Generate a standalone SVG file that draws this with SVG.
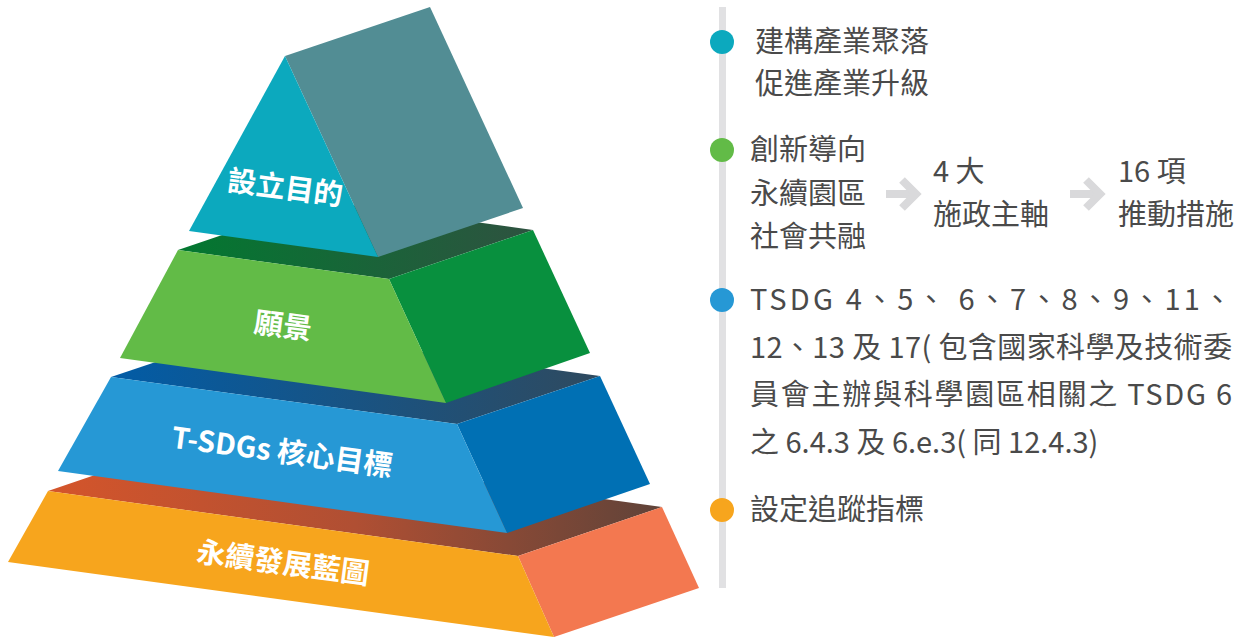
<svg xmlns="http://www.w3.org/2000/svg" width="1244" height="637" viewBox="0 0 1244 637">
<defs>
<style>
.lbl{font-family:"Noto Sans CJK TC","Noto Sans CJK SC",sans-serif;font-weight:700;font-size:29px;fill:#fff;text-anchor:middle}
.txt{font-family:"Noto Sans CJK TC","Noto Sans CJK SC",sans-serif;font-weight:400;font-size:29px;fill:#4a4a4a}
.arrow{fill:none;stroke:#d9d9db;stroke-width:8}
</style>
<linearGradient id="gTop" x1="0" y1="0" x2="1" y2="0"><stop offset="0" stop-color="#027830"/><stop offset="1" stop-color="#2e5240"/></linearGradient>
<linearGradient id="bTop" x1="0" y1="0" x2="1" y2="0"><stop offset="0" stop-color="#025ca6"/><stop offset="1" stop-color="#2f4a5f"/></linearGradient>
<linearGradient id="oTop" x1="0" y1="0" x2="1" y2="0"><stop offset="0" stop-color="#d4552b"/><stop offset="0.5" stop-color="#b04f33"/><stop offset="1" stop-color="#5f4339"/></linearGradient>
</defs>

<g id="layer-blueprint">
<polygon points="48,491 192,442 662,507 518,556" fill="url(#oTop)"/>
<polygon points="518,556 662,507 699,588 554,637" fill="#f37850"/>
<polygon points="48,491 518,556 554,637 8,562" fill="#f7a51d"/>
<text class="lbl" transform="translate(283,563) rotate(7.5)" y="10">永續發展藍圖</text>
</g>

<g id="layer-tsdgs">
<polygon points="111,377 254,329 600,376 457,424" fill="url(#bTop)"/>
<polygon points="457,424 600,376 650,484 507,533" fill="#0070b4"/>
<polygon points="111,377 457,424 507,533 58,471" fill="#2698d5"/>
<text class="lbl" transform="translate(282,452) rotate(7.5)" y="10">T-SDGs 核心目標</text>
</g>

<g id="layer-vision">
<polygon points="178,250 322,201 533,230 389,279" fill="url(#gTop)"/>
<polygon points="389,279 533,230 590,353 446,403" fill="#08903e"/>
<polygon points="178,250 389,279 446,403 120,358" fill="#62bb47"/>
<text class="lbl" transform="translate(283,326) rotate(7.5)" y="10">願景</text>
</g>

<g id="layer-purpose">
<polygon points="285,56 430,7 523,208 378,257" fill="#528d94"/>
<polygon points="285,56 378,257 189,231" fill="#0ca9be"/>
<text class="lbl" transform="translate(285,188) rotate(7.5)" y="10">設立目的</text>
</g>

<g id="connectors">
<rect id="timeline" x="719" y="7" width="7" height="581" fill="#e1e1e3"/>
<g id="arrow1"><line class="arrow" x1="886" y1="194" x2="913" y2="194"/><polyline class="arrow" points="902,180 916,194 902,208"/></g>
<g id="arrow2"><line class="arrow" x1="1070" y1="194" x2="1097" y2="194"/><polyline class="arrow" points="1086,180 1100,194 1086,208"/></g>
</g>

<g id="item-purpose">
<circle cx="722" cy="42" r="12" fill="#0ca9be"/>
<text class="txt" x="755" y="52">建構產業聚落</text>
<text class="txt" x="755" y="94">促進產業升級</text>
</g>

<g id="item-vision">
<circle cx="722" cy="150" r="12" fill="#62bb47"/>
<text class="txt" x="750" y="160">創新導向</text>
<text class="txt" x="750" y="204">永續園區</text>
<text class="txt" x="750" y="247">社會共融</text>
</g>

<g id="item-axes">
<text class="txt" x="933" y="182">4 大</text>
<text class="txt" x="933" y="225">施政主軸</text>
</g>

<g id="item-measures">
<text class="txt" x="1118" y="182">16 項</text>
<text class="txt" x="1118" y="225">推動措施</text>
</g>

<g id="item-tsdgs">
<circle cx="722" cy="300" r="12" fill="#2698d5"/>
<text class="txt" x="750" y="310" textLength="482" lengthAdjust="spacing">TSDG 4、5、 6、7、8、9、11、</text>
<text class="txt" x="750" y="358" textLength="482" lengthAdjust="spacing">12、13 及 17( 包含國家科學及技術委</text>
<text class="txt" x="750" y="405" textLength="482" lengthAdjust="spacing">員會主辦與科學園區相關之 TSDG 6</text>
<text class="txt" x="750" y="453">之 6.4.3 及 6.e.3( 同 12.4.3)</text>
</g>

<g id="item-indicators">
<circle cx="722" cy="510" r="12" fill="#f7a51d"/>
<text class="txt" x="750" y="520">設定追蹤指標</text>
</g>
</svg>
